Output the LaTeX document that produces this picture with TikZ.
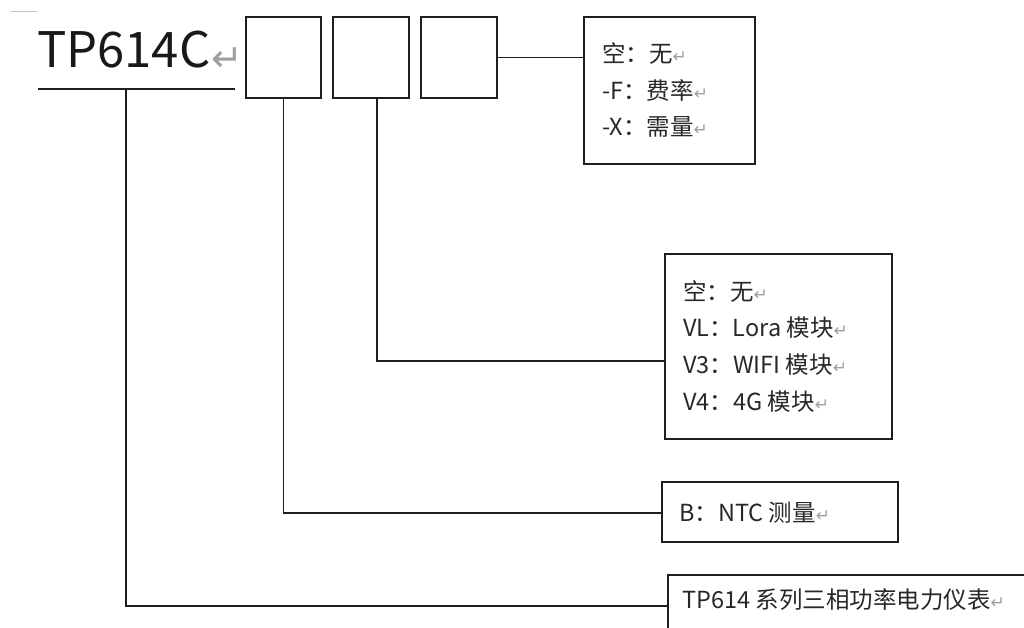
\documentclass[tikz,border=0pt]{standalone}
\usepackage{fontspec}
\setmainfont{Noto Sans CJK SC}
\newfontfamily\dvfont{DejaVu Sans}
\definecolor{retgray}{RGB}{160,160,160}
\definecolor{txt}{RGB}{40,40,40}
\definecolor{ln}{RGB}{30,30,30}
\newcommand\pmark{{\dvfont\fontsize{17}{17}\selectfont\color{retgray}↵}}
\begin{document}
\begin{tikzpicture}[x=1pt,y=-1pt,
  box/.style={draw=ln, line width=1.4pt, rectangle, inner sep=0pt},
  lbl/.style={anchor=base west, inner sep=0pt, text=txt, font=\fontsize{23.5}{25}\selectfont},
  wire/.style={draw=ln, line width=1.4pt}]
\clip (0,0) rectangle (1024,628);
\fill[white] (0,0) rectangle (1024,628);
% top-left gray mark
\coordinate (g1) at (10,12);
\coordinate (g2) at (37,12);
\draw[retgray!60, line width=1pt] (g1) -- (g2);
% title
\node[anchor=base west, inner sep=0pt, text=black!90, font=\fontsize{49}{50}\selectfont] (title) at (37,68) {TP614C};
\node[anchor=base west, inner sep=0pt, font=\dvfont\fontsize{38}{38}\selectfont, text=retgray] (titlemark) at ([xshift=1pt,yshift=-4pt]title.base east) {↵};
\coordinate (ul1) at (38,89);
\coordinate (ul2) at (235,89);
\draw[wire] (ul1) -- (ul2);
% code boxes
\node[box, minimum width=75pt, minimum height=81pt] (b1) at (283.5,57.5) {};
\node[box, minimum width=76pt, minimum height=81pt] (b2) at (371,57.5) {};
\node[box, minimum width=76pt, minimum height=81pt] (b3) at (459,57.5) {};
% description boxes
\node[box, minimum width=171pt, minimum height=147pt] (A) at (669.5,90.5) {};
\node[box, minimum width=227pt, minimum height=185pt] (B) at (778.5,346.5) {};
\node[box, minimum width=236pt, minimum height=60pt] (C) at (780,512) {};
\node[box, minimum width=372pt, minimum height=75pt] (D) at (854,612.5) {};
% texts box A
\node[lbl] (a1) at (602,63) {空：无\pmark};
\node[lbl] (a2) at (602,100) {-F：费率\pmark};
\node[lbl] (a3) at (602,136) {-X：需量\pmark};
% texts box B
\node[lbl] (bb1) at (683,300) {空：无\pmark};
\node[lbl] (bb2) at (683,336) {VL：Lora 模块\pmark};
\node[lbl] (bb3) at (683,373) {V3：WIFI 模块\pmark};
\node[lbl] (bb4) at (683,410) {V4：4G 模块\pmark};
% text box C
\node[lbl] (c1) at (679,521) {B：NTC 测量\pmark};
% text box D
\node[lbl] (d1) at (682,608) {TP614 系列三相功率电力仪表\pmark};
% connectors
\draw[wire] (b3.east) -- (b3.east -| A.west);
\coordinate (v2top) at (377,98);
\coordinate (v2bot) at (377,361);
\draw[wire] (v2top) -- (v2bot) -- (v2bot -| B.west);
\coordinate (v1bot) at (b1.south |- 0,513);
\draw[wire] (b1.south) -- (v1bot) -- (v1bot -| C.west);
\coordinate (v0top) at (126,89);
\coordinate (v0bot) at (126,606);
\draw[wire] (v0top) -- (v0bot) -- (v0bot -| D.west);
\end{tikzpicture}
\end{document}
